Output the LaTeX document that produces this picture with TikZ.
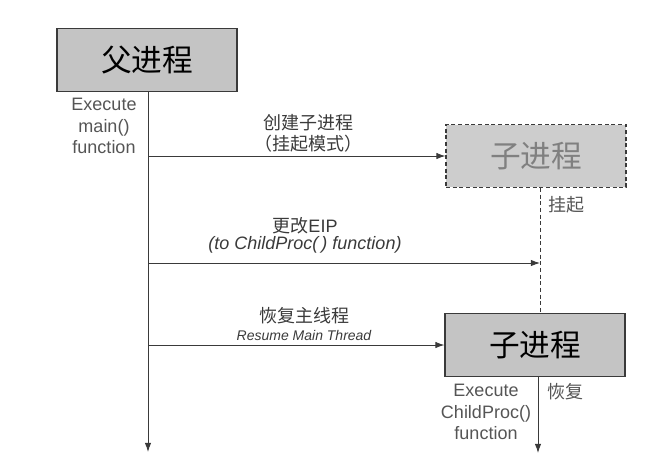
\documentclass[tikz,border=0pt]{standalone}
\usepackage{fontspec}
\setmainfont{Liberation Sans}
\newfontfamily\cjk{Noto Sans CJK SC}
\usetikzlibrary{arrows.meta, positioning}
\definecolor{BoxGray}{HTML}{C4C4C4}
\definecolor{LineDark}{HTML}{3A3A3A}
\definecolor{TextGray}{HTML}{555555}

\begin{document}
\begin{tikzpicture}[
    x=0.75pt, y=-0.75pt,
    proc/.style={rectangle, draw=LineDark, line width=0.8pt, fill=BoxGray, minimum width=135pt, minimum height=47pt, inner sep=0pt, font=\cjk\fontsize{23}{27}\selectfont},
    arrow/.style={-{Latex[length=2.4mm, width=1.7mm]}, draw=LineDark, line width=0.7pt},
    note/.style={align=center, text=TextGray, font=\fontsize{13.5}{16}\selectfont, inner sep=0pt},
    cjknote/.style={align=center, text=LineDark, font=\cjk\fontsize{13.5}{16}\selectfont, inner sep=0pt}
]
\useasboundingbox (0,0) rectangle (671,469);

\node[proc] (parent) at (147,60) {父进程};
\node[proc, densely dashed, fill=BoxGray!85, text=gray] (suspended) at (536,156) {子进程};
\node[proc] (child) at (535,345) {子进程};

% parent timeline
\coordinate (pfork) at (148,156);
\coordinate (peip) at (148,263);
\coordinate (presume) at (148,345);
\coordinate (pend) at (148,452);
\draw[arrow] (parent.south -| pend) -- (pend);

% child timeline
\coordinate (ceip) at (540,263);
\coordinate (cend) at (538,453);
\draw[densely dashed, draw=LineDark, line width=0.7pt] (suspended.south -| ceip) -- (child.north -| ceip);
\draw[arrow] (child.south -| cend) -- (cend);

\draw[arrow] (pfork) -- (suspended.west);
\draw[arrow] (peip) -- (ceip);
\draw[arrow] (presume) -- (child.west);

\node[note] (pnote) at (104,126) {Execute\\main()\\function};
\node[cjknote] (forklbl) at (308,133) {创建子进程\\（挂起模式）};
\node[cjknote, font=\fontsize{13.5}{13}\selectfont] (eiplbl) at (305,235) {{\cjk 更改}EIP\\\textit{(to ChildProc(\,) function)}};
\node[cjknote, font=\cjk\fontsize{13.5}{14}\selectfont] (resumelbl) at (304,324) {恢复主线程\\{\rmfamily\itshape\fontsize{10.5}{12}\selectfont Resume Main Thread}};
\node[cjknote, text=TextGray] (suspendlbl) at (566,205) {挂起};
\node[cjknote, text=TextGray] (resumed) at (565,392) {恢复};
\node[note] (cnote) at (486,412) {Execute\\ChildProc()\\function};
\end{tikzpicture}
\end{document}
